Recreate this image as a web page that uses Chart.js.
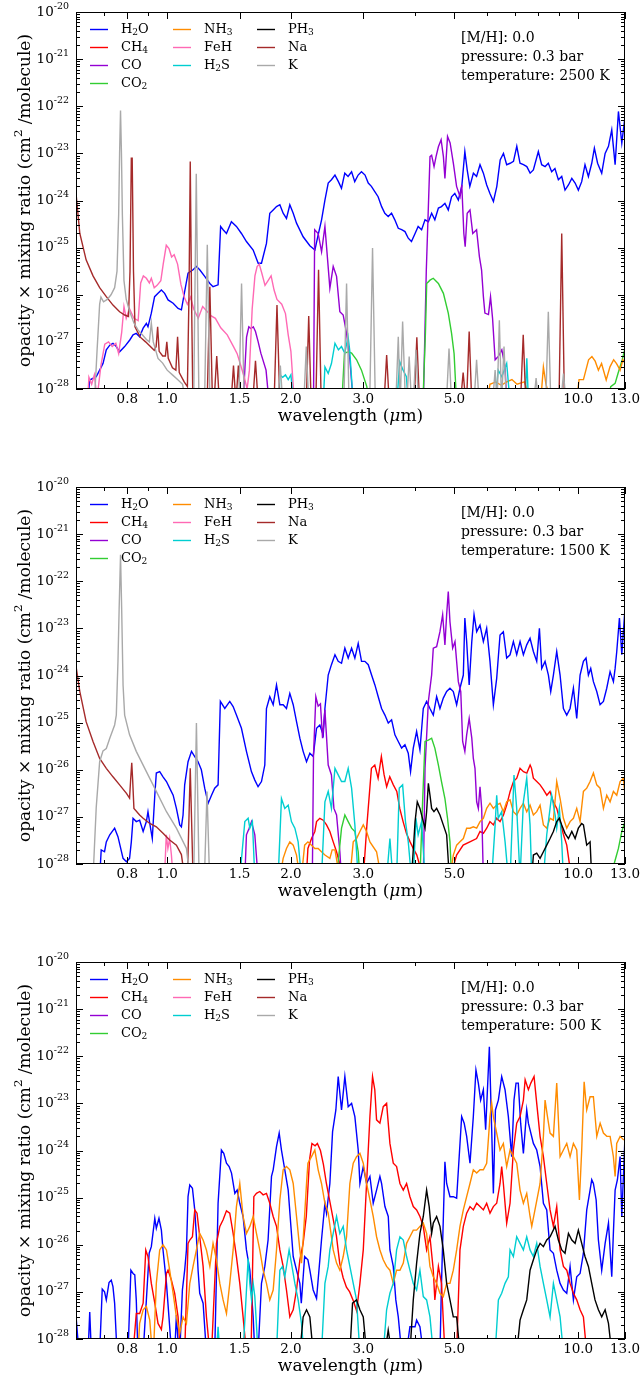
<!DOCTYPE html>
<html>
<head>
<meta charset="utf-8">
<script src="https://cdn.jsdelivr.net/npm/chart.js@4.4.1/dist/chart.umd.min.js"></script>
<style>
  html, body { margin: 0; padding: 0; background: #fff; }
  body { width: 642px; height: 1376px; position: relative; overflow: hidden; }
  canvas { position: absolute; left: 0; }
</style>
</head>
<body>
<canvas id="c2500" width="642" height="475" style="top:0px"></canvas>
<canvas id="c1500" width="642" height="475" style="top:475px"></canvas>
<canvas id="c500" width="642" height="426" style="top:950px"></canvas>
<script>
// each point: [wavelength in micron, log10(opacity x mixing ratio)]
const species = ['H_2O', 'CH_4', 'CO', 'CO_2', 'NH_3', 'FeH', 'H_2S', 'PH_3', 'Na', 'K'];
const colors = ['#0000ff', '#ff0000', '#9400d3', '#32cd32', '#ff8c00', '#ff69b4', '#00ced1', '#000000', '#a52a2a', '#a9a9a9'];
const xTicks = [0.7, 0.8, 0.9, 1, 1.5, 2, 3, 4, 5, 6, 7, 8, 9, 10, 13];
const xTickLabels = { 0.8: '0.8', 1: '1.0', 1.5: '1.5', 2: '2.0', 3: '3.0', 5: '5.0', 10: '10.0', 13: '13.0' };
const yDecades = [-28, -27, -26, -25, -24, -23, -22, -21, -20];

// ---- T = 2500 K ----
const h2o2500 = [[0.64,-28.3],[0.648,-27.81],[0.672,-27.74],[0.685,-27.6],[0.698,-27.46],[0.711,-27.17],[0.725,-27.07],[0.738,-27.03],[0.752,-27.1],[0.766,-27.21],[0.788,-27.1],[0.811,-26.96],[0.826,-26.85],[0.841,-26.82],[0.857,-26.89],[0.874,-26.71],[0.89,-26.61],[0.898,-26.68],[0.915,-26.39],[0.932,-26.04],[0.95,-25.97],[0.968,-25.9],[0.986,-25.97],[1.005,-26.11],[1.034,-26.18],[1.063,-26.29],[1.083,-26.32],[1.103,-25.93],[1.124,-25.54],[1.156,-25.47],[1.178,-25.4],[1.2,-25.47],[1.234,-25.61],[1.27,-25.76],[1.293,-25.83],[1.33,-25.79],[1.349,-24.55],[1.368,-24.62],[1.394,-24.7],[1.433,-24.45],[1.474,-24.55],[1.516,-24.7],[1.559,-24.87],[1.619,-25.05],[1.665,-25.33],[1.696,-25.33],[1.744,-24.91],[1.777,-24.27],[1.811,-24.2],[1.845,-24.13],[1.88,-24.09],[1.915,-24.27],[1.951,-24.38],[1.988,-24.09],[2.026,-24.27],[2.064,-24.48],[2.142,-24.77],[2.224,-24.96],[2.288,-25.05],[2.33,-24.73],[2.375,-24.41],[2.42,-23.99],[2.465,-23.63],[2.51,-23.56],[2.56,-23.46],[2.61,-23.6],[2.655,-23.74],[2.705,-23.42],[2.755,-23.49],[2.81,-23.39],[2.86,-23.6],[2.915,-23.46],[2.97,-23.39],[3.03,-23.46],[3.085,-23.63],[3.14,-23.7],[3.2,-23.81],[3.26,-23.92],[3.325,-24.13],[3.385,-24.27],[3.45,-24.34],[3.515,-24.27],[3.58,-24.41],[3.65,-24.59],[3.72,-24.62],[3.79,-24.66],[3.86,-24.8],[3.93,-24.87],[4.01,-24.7],[4.08,-24.55],[4.16,-24.62],[4.24,-24.41],[4.32,-24.45],[4.4,-24.27],[4.48,-24.41],[4.57,-24.16],[4.65,-24.13],[4.74,-24.06],[4.83,-24.2],[4.92,-23.92],[5.01,-23.85],[5.11,-23.99],[5.21,-23.7],[5.3,-22.96],[5.37,-23.35],[5.45,-23.7],[5.56,-23.42],[5.66,-23.49],[5.77,-23.24],[5.88,-23.42],[5.99,-23.67],[6.1,-23.85],[6.22,-24.02],[6.34,-23.7],[6.46,-23.14],[6.58,-23.0],[6.7,-23.24],[6.83,-23.21],[6.96,-23.17],[7.09,-22.85],[7.22,-23.21],[7.36,-23.24],[7.5,-23.28],[7.64,-23.42],[7.78,-23.35],[8.0,-22.96],[8.15,-23.24],[8.31,-23.28],[8.46,-23.21],[8.62,-23.39],[8.78,-23.32],[8.95,-23.56],[9.12,-23.49],[9.29,-23.78],[9.47,-23.67],[9.65,-23.53],[9.83,-23.63],[10.01,-23.78],[10.2,-23.6],[10.39,-23.24],[10.59,-23.49],[10.79,-23.21],[10.95,-22.89],[11.15,-23.21],[11.41,-23.42],[11.63,-23.0],[11.85,-22.85],[12.07,-22.5],[12.3,-23.24],[12.53,-22.11],[12.77,-22.78],[13.0,-22.22]];
const ch4_2500 = [];
const co2500 = [[1.53,-28.3],[1.56,-26.9],[1.58,-26.68],[1.6,-26.72],[1.62,-26.68],[1.64,-26.78],[1.665,-27.0],[1.69,-27.24],[1.74,-27.6],[1.77,-28.3],[2.27,-28.3],[2.285,-24.62],[2.33,-24.7],[2.375,-25.09],[2.42,-24.55],[2.488,-25.86],[2.535,-25.4],[2.583,-25.61],[2.631,-26.36],[2.681,-26.43],[2.732,-26.82],[2.783,-27.38],[2.836,-28.3],[4.2,-28.3],[4.27,-25.5],[4.36,-23.07],[4.4,-23.04],[4.46,-23.28],[4.51,-23.07],[4.57,-22.86],[4.64,-22.71],[4.7,-23.07],[4.74,-23.53],[4.81,-22.64],[4.88,-22.78],[4.97,-23.21],[5.06,-23.7],[5.16,-23.92],[5.21,-23.67],[5.27,-24.7],[5.31,-24.98],[5.37,-24.27],[5.455,-24.2],[5.54,-24.7],[5.66,-24.62],[5.75,-25.19],[5.82,-25.47],[5.88,-26.04],[5.93,-26.39],[6.05,-26.42],[6.12,-26.04],[6.19,-26.5],[6.28,-27.38],[6.39,-27.31],[6.52,-27.17],[6.64,-27.53],[6.7,-28.3]];
const co2_2500 = [[2.66,-28.3],[2.7,-27.24],[2.76,-27.21],[2.81,-27.24],[2.89,-27.38],[2.97,-27.6],[3.06,-27.95],[3.1,-28.3],[4.19,-28.3],[4.25,-26.8],[4.28,-25.76],[4.36,-25.69],[4.44,-25.65],[4.57,-25.76],[4.7,-25.97],[4.83,-26.39],[4.92,-26.82],[4.99,-27.25],[5.06,-28.3],[11.8,-28.3],[12.0,-27.95],[12.3,-27.88],[12.5,-27.67],[12.8,-27.38],[13.0,-27.14]];
const nh3_2500 = [[6.0,-28.3],[6.1,-27.9],[6.3,-27.85],[6.5,-27.92],[6.7,-27.85],[6.9,-27.8],[7.1,-27.9],[7.4,-27.85],[7.7,-28.3],[8.1,-28.3],[8.23,-27.53],[8.35,-27.9],[8.6,-28.3],[9.9,-28.3],[10.05,-27.8],[10.3,-27.8],[10.6,-27.38],[10.8,-27.31],[11.0,-27.41],[11.2,-27.6],[11.4,-27.46],[11.7,-27.81],[11.95,-27.53],[12.2,-27.38],[12.4,-27.46],[12.65,-27.6],[12.85,-27.38],[13.0,-27.46]];
const feh2500 = [[0.64,-28.3],[0.645,-27.75],[0.655,-27.9],[0.665,-27.7],[0.675,-28.2],[0.69,-27.5],[0.705,-27.05],[0.72,-27.0],[0.735,-27.1],[0.75,-27.03],[0.762,-27.25],[0.775,-26.8],[0.785,-26.25],[0.795,-26.5],[0.81,-26.3],[0.83,-26.5],[0.85,-26.55],[0.862,-25.75],[0.875,-25.6],[0.89,-25.65],[0.905,-25.75],[0.915,-25.65],[0.93,-25.85],[0.945,-25.8],[0.965,-25.7],[0.978,-25.35],[0.995,-24.95],[1.01,-25.02],[1.025,-25.2],[1.04,-25.15],[1.06,-25.35],[1.08,-25.78],[1.1,-26.05],[1.12,-26.2],[1.14,-26.05],[1.16,-26.3],[1.19,-26.5],[1.22,-26.25],[1.25,-26.35],[1.28,-26.45],[1.31,-26.5],[1.35,-26.7],[1.4,-26.85],[1.45,-27.1],[1.48,-27.25],[1.51,-27.5],[1.54,-27.75],[1.565,-28.0],[1.585,-27.6],[1.61,-26.3],[1.635,-25.6],[1.655,-25.4],[1.675,-25.35],[1.7,-25.55],[1.73,-25.8],[1.76,-25.7],[1.79,-25.6],[1.82,-25.9],[1.85,-26.1],[1.9,-26.2],[1.94,-26.4],[1.97,-26.85],[2.0,-27.2],[2.04,-28.3]];
const h2s2500 = [[1.87,-28.3],[1.88,-27.7],[1.91,-27.75],[1.94,-27.7],[1.97,-27.8],[2.0,-27.7],[2.03,-28.3],[2.397,-28.3],[2.42,-27.53],[2.465,-27.67],[2.51,-27.46],[2.56,-27.03],[2.61,-27.17],[2.655,-27.1],[2.705,-27.24],[2.755,-26.89],[2.78,-27.17],[2.836,-28.3],[3.62,-28.3],[3.68,-27.42],[3.75,-27.6],[3.82,-27.74],[3.86,-28.3],[6.28,-28.3],[6.39,-27.6],[6.52,-27.74],[6.7,-27.46],[6.83,-28.3],[7.43,-28.3],[7.5,-27.35],[7.57,-28.3]];
const ph3_2500 = [];
const na2500 = [[0.6,-23.85],[0.613,-24.7],[0.635,-25.26],[0.66,-25.6],[0.685,-25.85],[0.711,-26.04],[0.738,-26.22],[0.766,-26.36],[0.788,-26.43],[0.805,-26.46],[0.812,-25.5],[0.818,-23.1],[0.822,-23.1],[0.828,-25.5],[0.835,-26.68],[0.86,-26.9],[0.886,-27.0],[0.93,-27.18],[0.94,-27.1],[0.948,-26.68],[0.956,-27.2],[0.975,-27.3],[0.99,-27.3],[0.998,-27.0],[1.006,-27.35],[1.03,-27.55],[1.05,-27.6],[1.06,-26.89],[1.07,-27.65],[1.1,-27.85],[1.12,-27.95],[1.13,-26.0],[1.138,-23.17],[1.146,-26.0],[1.155,-28.3],[1.251,-28.3],[1.27,-25.83],[1.289,-28.3],[1.3,-28.3],[1.32,-27.3],[1.34,-28.3],[1.43,-28.3],[1.45,-27.5],[1.47,-28.3],[1.49,-27.5],[1.51,-28.3],[1.615,-28.3],[1.64,-27.4],[1.665,-28.3],[1.82,-28.3],[1.85,-26.22],[1.88,-28.3],[2.18,-28.3],[2.21,-26.45],[2.24,-28.3],[2.3,-28.3],[2.335,-25.47],[2.37,-28.3],[3.37,-28.3],[3.42,-27.28],[3.47,-28.3],[3.99,-28.3],[4.05,-26.9],[4.11,-28.3],[5.17,-28.3],[5.25,-27.65],[5.33,-28.3],[5.35,-28.3],[5.43,-26.78],[5.51,-28.3],[7.24,-28.3],[7.35,-26.85],[7.46,-28.3],[8.98,-28.3],[9.12,-24.7],[9.26,-28.3]];
const k2500 = [[0.665,-28.3],[0.675,-27.2],[0.685,-26.2],[0.69,-26.05],[0.7,-26.15],[0.715,-26.1],[0.73,-26.0],[0.745,-25.85],[0.755,-25.5],[0.762,-24.3],[0.766,-23.0],[0.77,-22.09],[0.774,-23.0],[0.778,-24.3],[0.785,-25.7],[0.795,-26.1],[0.81,-26.35],[0.83,-26.6],[0.85,-26.75],[0.87,-26.85],[0.89,-26.95],[0.905,-27.0],[0.915,-26.6],[0.925,-27.0],[0.95,-27.35],[0.975,-27.45],[1.0,-27.6],[1.03,-27.7],[1.06,-27.8],[1.09,-27.9],[1.11,-28.3],[1.16,-28.3],[1.177,-23.43],[1.195,-28.3],[1.233,-28.3],[1.252,-24.94],[1.271,-28.3],[1.494,-28.3],[1.517,-25.76],[1.54,-28.3],[1.86,-28.3],[1.885,-27.5],[1.91,-28.3],[2.15,-28.3],[2.18,-27.1],[2.21,-28.3],[2.69,-28.3],[2.732,-25.76],[2.77,-28.3],[3.11,-28.3],[3.16,-25.01],[3.21,-28.3],[3.6,-28.3],[3.65,-26.89],[3.69,-28.3],[3.7,-28.3],[3.74,-26.57],[3.8,-28.3],[3.83,-28.3],[3.88,-27.31],[3.93,-28.3],[3.97,-28.3],[4.03,-27.17],[4.09,-28.3],[4.78,-28.3],[4.85,-27.14],[4.92,-28.3],[5.58,-28.3],[5.66,-27.38],[5.74,-28.3],[6.19,-28.3],[6.28,-27.6],[6.35,-28.3],[6.36,-28.3],[6.43,-26.54],[6.51,-28.3],[6.52,-28.3],[6.6,-27.1],[6.69,-28.3],[7.79,-28.3],[7.9,-27.77],[8.01,-28.3],[8.34,-28.3],[8.46,-26.36],[8.58,-28.3],[9.07,-28.3],[9.21,-27.67],[9.35,-28.3]];

// ---- T = 1500 K ----
const h2o1500 = [[0.685,-28.3],[0.691,-27.7],[0.704,-27.74],[0.711,-27.53],[0.725,-27.38],[0.745,-27.24],[0.759,-27.42],[0.781,-27.88],[0.796,-27.95],[0.81,-27.88],[0.818,-27.53],[0.826,-27.03],[0.841,-27.1],[0.857,-27.07],[0.874,-27.31],[0.89,-27.1],[0.898,-26.89],[0.907,-27.14],[0.92,-27.46],[0.933,-26.54],[0.941,-26.07],[0.959,-26.04],[0.977,-26.15],[0.996,-26.25],[1.014,-26.39],[1.034,-26.54],[1.053,-26.82],[1.073,-27.17],[1.083,-27.21],[1.093,-26.96],[1.103,-26.32],[1.124,-25.83],[1.146,-25.61],[1.167,-25.72],[1.189,-25.83],[1.211,-26.0],[1.234,-26.39],[1.258,-26.71],[1.282,-26.54],[1.305,-26.39],[1.33,-26.32],[1.347,-24.55],[1.381,-24.7],[1.42,-24.55],[1.447,-24.66],[1.474,-24.84],[1.516,-25.12],[1.559,-25.61],[1.603,-26.04],[1.634,-26.22],[1.664,-26.36],[1.696,-26.25],[1.728,-25.9],[1.744,-24.7],[1.777,-24.45],[1.811,-24.62],[1.845,-24.2],[1.88,-24.62],[1.915,-24.62],[1.951,-24.7],[1.988,-24.38],[2.026,-24.62],[2.064,-24.98],[2.103,-25.33],[2.142,-25.61],[2.183,-25.83],[2.224,-25.65],[2.266,-25.72],[2.309,-25.12],[2.352,-25.05],[2.397,-25.26],[2.42,-24.7],[2.465,-23.99],[2.51,-23.77],[2.56,-23.56],[2.607,-23.7],[2.656,-23.74],[2.706,-23.42],[2.757,-23.63],[2.81,-23.42],[2.862,-23.63],[2.916,-23.32],[2.971,-23.7],[3.027,-23.7],[3.085,-23.77],[3.143,-23.99],[3.202,-24.2],[3.262,-24.45],[3.324,-24.7],[3.387,-24.84],[3.451,-25.01],[3.516,-24.94],[3.582,-25.26],[3.65,-25.4],[3.719,-25.54],[3.789,-25.47],[3.86,-25.65],[3.91,-26.04],[3.97,-25.54],[4.045,-25.19],[4.121,-25.58],[4.199,-24.7],[4.278,-24.55],[4.359,-24.7],[4.441,-24.84],[4.525,-24.45],[4.61,-24.7],[4.697,-24.48],[4.786,-24.34],[4.876,-24.27],[4.968,-24.34],[5.062,-24.62],[5.157,-24.27],[5.255,-23.99],[5.3,-22.78],[5.354,-23.28],[5.43,-24.2],[5.51,-23.28],[5.58,-22.71],[5.663,-23.07],[5.77,-22.93],[5.879,-23.28],[5.989,-23.0],[6.102,-23.7],[6.218,-24.62],[6.335,-24.06],[6.455,-23.14],[6.576,-23.07],[6.7,-23.63],[6.827,-23.56],[6.956,-23.28],[7.087,-23.56],[7.221,-23.28],[7.357,-23.56],[7.496,-23.35],[7.637,-23.21],[7.781,-23.49],[7.928,-23.7],[8.048,-23.0],[8.153,-23.85],[8.307,-23.7],[8.464,-23.99],[8.575,-24.34],[8.704,-23.99],[8.868,-23.49],[9.036,-23.99],[9.206,-24.7],[9.38,-24.84],[9.557,-24.7],[9.737,-24.27],[9.92,-24.91],[10.107,-23.99],[10.298,-23.7],[10.45,-23.63],[10.59,-23.99],[10.73,-23.85],[10.891,-24.13],[11.097,-24.34],[11.306,-24.62],[11.519,-24.55],[11.736,-24.27],[11.958,-23.92],[12.183,-24.13],[12.3,-23.85],[12.413,-23.49],[12.6,-22.78],[12.77,-23.56],[13.0,-22.57]];
const ch4_1500 = [[2.18,-28.3],[2.2,-27.67],[2.245,-27.46],[2.287,-27.31],[2.309,-27.1],[2.352,-27.03],[2.397,-27.07],[2.442,-27.17],[2.488,-27.31],[2.535,-27.53],[2.583,-27.74],[2.63,-28.0],[2.66,-28.3],[3.0,-28.3],[3.06,-27.2],[3.14,-25.97],[3.2,-25.9],[3.26,-26.18],[3.32,-25.72],[3.37,-26.1],[3.42,-26.36],[3.48,-26.15],[3.55,-26.32],[3.62,-26.46],[3.68,-26.82],[3.75,-27.1],[3.82,-27.35],[3.9,-27.53],[3.97,-27.67],[4.05,-27.81],[4.2,-28.3],[4.88,-28.3],[5.06,-27.81],[5.25,-27.6],[5.45,-27.53],[5.66,-27.46],[5.77,-27.31],[5.88,-27.35],[5.99,-27.24],[6.1,-27.1],[6.22,-27.17],[6.33,-27.03],[6.455,-27.1],[6.58,-26.96],[6.7,-26.75],[6.83,-26.46],[6.96,-26.25],[7.09,-26.18],[7.22,-25.97],[7.36,-26.04],[7.5,-26.07],[7.64,-25.9],[7.7,-25.97],[7.78,-26.18],[7.93,-26.25],[8.08,-26.32],[8.23,-26.42],[8.39,-26.54],[8.54,-26.46],[8.7,-26.68],[8.87,-26.82],[9.04,-27.1],[9.21,-27.38],[9.38,-27.6],[9.63,-28.3]];
const co1500 = [[1.545,-28.3],[1.559,-27.38],[1.583,-27.24],[1.604,-27.1],[1.634,-27.38],[1.664,-28.3],[2.255,-28.3],[2.27,-25.7],[2.3,-24.45],[2.33,-24.65],[2.36,-24.6],[2.388,-25.33],[2.42,-24.73],[2.465,-25.9],[2.51,-26.11],[2.545,-26.82],[2.583,-26.96],[2.631,-27.74],[2.656,-28.3],[4.2,-28.3],[4.24,-25.97],[4.32,-24.55],[4.4,-23.99],[4.441,-23.42],[4.525,-23.39],[4.61,-23.07],[4.68,-22.71],[4.74,-23.35],[4.786,-22.71],[4.83,-22.22],[4.876,-22.86],[4.95,-23.42],[5.015,-23.28],[5.11,-24.13],[5.18,-24.34],[5.235,-25.4],[5.3,-25.61],[5.354,-25.26],[5.43,-24.91],[5.51,-25.33],[5.558,-25.76],[5.61,-25.97],[5.663,-26.68],[5.716,-26.82],[5.77,-26.36],[5.824,-26.82],[5.879,-28.3]];
const co2_1500 = [[2.583,-28.3],[2.656,-27.24],[2.706,-26.96],[2.757,-27.1],[2.81,-27.24],[2.862,-27.31],[2.916,-27.74],[2.944,-28.3],[4.121,-28.3],[4.18,-26.75],[4.24,-25.4],[4.32,-25.37],[4.4,-25.33],[4.48,-25.54],[4.57,-25.9],[4.65,-26.25],[4.74,-26.61],[4.81,-27.03],[4.876,-27.53],[4.92,-28.3],[11.96,-28.3],[12.3,-27.92],[12.53,-27.67],[12.77,-27.31],[13.0,-27.1]];
const nh3_1500 = [[1.88,-28.3],[1.915,-27.88],[1.951,-27.67],[1.988,-27.53],[2.026,-27.6],[2.064,-27.81],[2.103,-28.3],[2.12,-28.3],[2.16,-27.6],[2.2,-27.53],[2.245,-27.6],[2.287,-27.67],[2.33,-27.67],[2.374,-27.74],[2.42,-27.81],[2.488,-27.88],[2.52,-27.7],[2.56,-27.7],[2.63,-28.3],[2.783,-28.3],[2.836,-27.53],[2.889,-27.46],[2.944,-27.31],[3.0,-27.17],[3.056,-27.31],[3.114,-27.53],[3.232,-27.74],[3.32,-28.3],[4.876,-28.3],[4.968,-27.81],[5.062,-27.6],[5.157,-27.53],[5.255,-27.46],[5.354,-27.24],[5.455,-27.24],[5.558,-27.21],[5.663,-27.24],[5.77,-27.1],[5.879,-27.03],[5.989,-26.82],[6.102,-26.71],[6.218,-26.82],[6.335,-26.75],[6.455,-26.71],[6.576,-26.89],[6.7,-26.68],[6.827,-26.64],[6.956,-26.89],[7.087,-26.96],[7.221,-26.82],[7.357,-26.71],[7.496,-26.89],[7.637,-26.75],[7.781,-26.96],[7.928,-26.89],[8.078,-26.75],[8.23,-27.17],[8.385,-27.24],[8.543,-27.03],[8.704,-27.07],[8.868,-26.25],[9.036,-26.61],[9.206,-27.03],[9.38,-27.24],[9.557,-27.1],[9.737,-27.03],[9.92,-26.82],[10.107,-27.1],[10.298,-26.46],[10.492,-26.39],[10.69,-26.25],[10.891,-26.07],[11.097,-26.32],[11.306,-26.39],[11.519,-26.82],[11.736,-26.54],[11.958,-26.68],[12.183,-26.46],[12.413,-26.54],[12.647,-26.25],[12.885,-26.18],[13.0,-26.54]];
const feh1500 = [[0.985,-28.3],[0.995,-27.38],[1.004,-27.67],[1.014,-27.46],[1.024,-27.81],[1.034,-28.3]];
const h2s1500 = [[1.502,-28.3],[1.545,-27.1],[1.574,-27.03],[1.589,-27.24],[1.612,-27.1],[1.634,-28.3],[1.862,-28.3],[1.897,-26.61],[1.933,-26.82],[1.97,-26.75],[2.006,-27.1],[2.045,-27.24],[2.083,-27.53],[2.122,-28.3],[2.374,-28.3],[2.42,-26.68],[2.465,-26.46],[2.51,-26.82],[2.56,-25.97],[2.607,-26.11],[2.656,-26.25],[2.706,-26.25],[2.757,-25.97],[2.81,-26.39],[2.862,-27.17],[2.916,-28.3],[3.419,-28.3],[3.483,-27.46],[3.54,-28.3],[3.616,-28.3],[3.67,-26.39],[3.74,-26.32],[3.8,-27.1],[3.86,-27.53],[3.93,-28.3],[3.97,-28.3],[4.03,-27.03],[4.08,-27.38],[4.16,-27.1],[4.24,-28.3],[6.16,-28.3],[6.28,-27.17],[6.335,-26.54],[6.39,-27.03],[6.515,-26.89],[6.64,-27.53],[6.76,-28.3],[6.83,-28.3],[6.98,-26.11],[7.087,-26.82],[7.22,-28.3],[7.25,-28.3],[7.357,-26.68],[7.496,-26.18],[7.637,-27.17],[7.71,-28.3],[8.23,-28.3],[8.385,-27.38],[8.543,-26.82],[8.62,-26.54],[8.79,-26.96],[8.868,-27.24],[9.0,-26.82],[9.12,-27.53],[9.206,-28.3]];
const ph3_1500 = [[3.93,-28.3],[4.01,-27.1],[4.06,-26.68],[4.121,-26.82],[4.199,-27.1],[4.24,-27.24],[4.278,-26.89],[4.32,-26.29],[4.359,-26.54],[4.4,-26.82],[4.458,-26.89],[4.525,-26.82],[4.61,-26.96],[4.697,-27.17],[4.786,-27.38],[4.86,-28.3],[7.71,-28.3],[7.781,-27.81],[7.928,-27.77],[8.078,-27.88],[8.23,-27.74],[8.385,-27.6],[8.543,-27.46],[8.704,-27.31],[8.868,-27.1],[9.0,-27.03],[9.12,-27.17],[9.29,-27.35],[9.47,-27.46],[9.65,-27.31],[9.83,-27.46],[10.01,-27.24],[10.2,-27.14],[10.3,-27.17],[10.49,-27.6],[10.69,-27.53],[10.79,-28.3]];
const na1500 = [[0.6,-23.8],[0.613,-24.34],[0.635,-24.98],[0.66,-25.4],[0.685,-25.76],[0.711,-25.97],[0.738,-26.15],[0.766,-26.32],[0.796,-26.5],[0.81,-26.6],[0.815,-26.2],[0.82,-25.85],[0.824,-26.2],[0.83,-26.82],[0.857,-26.96],[0.874,-27.03],[0.907,-27.14],[0.941,-27.21],[0.977,-27.35],[1.014,-27.49],[1.053,-27.6],[1.083,-27.8],[1.103,-28.3],[1.12,-28.3],[1.138,-25.97],[1.156,-28.3]];
const k1500 = [[0.66,-28.3],[0.672,-26.8],[0.685,-25.83],[0.698,-25.6],[0.711,-25.55],[0.725,-25.33],[0.745,-25.05],[0.752,-24.84],[0.759,-23.7],[0.764,-22.6],[0.77,-21.44],[0.775,-22.6],[0.781,-24.2],[0.788,-24.84],[0.81,-25.26],[0.841,-25.61],[0.89,-26.04],[0.941,-26.46],[0.996,-26.89],[1.053,-27.24],[1.114,-27.67],[1.135,-28.3],[1.16,-28.3],[1.178,-25.01],[1.196,-28.3],[1.232,-28.3],[1.25,-26.46],[1.268,-28.3]];

// ---- T = 500 K ----
const h2o500 = [[0.6,-27.5],[0.61,-28.3],[0.642,-28.3],[0.648,-27.43],[0.654,-28.3],[0.685,-28.3],[0.695,-26.94],[0.704,-27.0],[0.711,-27.17],[0.722,-26.8],[0.731,-26.75],[0.738,-26.89],[0.745,-27.24],[0.755,-28.3],[0.803,-28.3],[0.816,-26.54],[0.826,-26.61],[0.834,-26.64],[0.841,-27.17],[0.849,-28.3],[0.874,-28.3],[0.89,-27.17],[0.904,-26.18],[0.915,-26.04],[0.933,-25.44],[0.941,-25.65],[0.955,-25.44],[0.968,-25.69],[0.977,-26.11],[0.996,-26.82],[1.01,-27.53],[1.025,-28.3],[1.043,-28.3],[1.053,-27.49],[1.067,-28.3],[1.073,-28.3],[1.089,-26.96],[1.103,-26.54],[1.114,-26.11],[1.124,-24.98],[1.135,-24.73],[1.152,-24.8],[1.167,-25.26],[1.178,-25.83],[1.189,-26.54],[1.2,-27.03],[1.223,-27.24],[1.246,-28.3],[1.305,-28.3],[1.33,-25.12],[1.355,-23.99],[1.373,-24.06],[1.394,-24.27],[1.415,-24.34],[1.434,-24.48],[1.461,-24.91],[1.48,-24.84],[1.502,-25.12],[1.53,-25.4],[1.559,-26.11],[1.589,-26.54],[1.619,-27.53],[1.634,-28.3],[1.664,-28.3],[1.696,-26.82],[1.728,-26.46],[1.76,-25.9],[1.794,-24.55],[1.811,-24.41],[1.845,-23.92],[1.873,-23.63],[1.897,-23.99],[1.933,-24.41],[1.97,-24.84],[2.006,-25.76],[2.026,-26.25],[2.064,-26.54],[2.103,-26.82],[2.12,-27.24],[2.16,-26.25],[2.2,-26.32],[2.224,-26.54],[2.266,-26.96],[2.309,-27.14],[2.352,-26.32],[2.374,-25.9],[2.42,-25.12],[2.442,-25.33],[2.488,-24.7],[2.526,-23.6],[2.573,-23.14],[2.607,-22.43],[2.656,-23.14],[2.706,-22.43],[2.757,-23.07],[2.81,-23.0],[2.862,-23.28],[2.916,-23.99],[2.944,-24.7],[3.0,-24.34],[3.056,-24.7],[3.114,-24.55],[3.172,-25.12],[3.232,-24.84],[3.293,-24.55],[3.324,-24.7],[3.387,-25.19],[3.451,-25.4],[3.483,-26.11],[3.549,-26.46],[3.6,-27.17],[3.65,-27.53],[3.72,-28.3],[3.82,-28.3],[3.896,-27.74],[4.01,-27.74],[4.045,-27.6],[4.121,-27.74],[4.199,-28.3],[4.61,-28.3],[4.65,-26.82],[4.74,-24.24],[4.786,-24.7],[4.876,-24.98],[4.968,-24.98],[5.062,-25.01],[5.206,-23.28],[5.28,-23.42],[5.354,-23.7],[5.455,-24.27],[5.558,-23.28],[5.64,-22.29],[5.716,-22.57],[5.79,-22.93],[5.879,-22.71],[5.955,-23.56],[6.08,-21.8],[6.16,-23.56],[6.218,-24.91],[6.29,-23.14],[6.395,-22.93],[6.515,-22.43],[6.638,-22.71],[6.763,-23.28],[6.89,-24.13],[6.98,-22.93],[7.06,-22.57],[7.15,-22.57],[7.245,-23.42],[7.357,-24.06],[7.496,-23.14],[7.566,-23.42],[7.781,-23.85],[7.928,-23.99],[8.078,-24.34],[8.23,-25.12],[8.385,-25.26],[8.543,-26.11],[8.704,-26.18],[8.868,-26.54],[9.036,-26.82],[9.206,-26.96],[9.38,-27.03],[9.557,-26.46],[9.737,-27.17],[9.92,-26.68],[10.107,-26.61],[10.298,-26.18],[10.492,-25.26],[10.69,-24.84],[10.79,-24.62],[10.891,-24.7],[11.06,-25.05],[11.2,-25.9],[11.41,-26.54],[11.63,-25.97],[11.85,-25.54],[12.07,-26.68],[12.18,-25.76],[12.3,-24.84],[12.46,-24.62],[12.647,-24.13],[12.77,-25.4],[13.0,-23.7]];
const ch4_500 = [[0.826,-28.3],[0.841,-27.46],[0.857,-27.46],[0.874,-27.24],[0.887,-26.11],[0.898,-26.25],[0.915,-26.82],[0.933,-27.24],[0.95,-27.67],[0.968,-27.8],[0.977,-27.53],[0.996,-26.61],[1.005,-26.54],[1.024,-26.75],[1.043,-27.03],[1.063,-27.53],[1.077,-28.3],[1.103,-28.3],[1.124,-25.97],[1.135,-25.9],[1.152,-25.83],[1.167,-25.26],[1.182,-25.33],[1.2,-25.83],[1.223,-26.46],[1.246,-27.53],[1.27,-28.3],[1.282,-28.3],[1.318,-25.97],[1.343,-25.61],[1.368,-25.47],[1.394,-25.28],[1.42,-25.33],[1.447,-25.76],[1.474,-26.25],[1.502,-26.82],[1.53,-27.53],[1.559,-28.3],[1.6,-28.3],[1.625,-24.98],[1.649,-24.91],[1.68,-24.87],[1.712,-24.94],[1.744,-24.91],[1.777,-25.12],[1.811,-25.4],[1.845,-25.61],[1.88,-26.11],[1.915,-26.46],[1.951,-26.96],[1.988,-27.53],[2.026,-27.38],[2.064,-26.96],[2.103,-26.32],[2.142,-25.97],[2.18,-25.4],[2.22,-24.2],[2.25,-23.85],[2.29,-23.9],[2.32,-23.85],[2.36,-24.0],[2.4,-24.3],[2.44,-24.7],[2.49,-25.1],[2.54,-25.5],[2.58,-25.8],[2.63,-26.4],[2.68,-26.7],[2.73,-26.9],[2.78,-27.0],[2.84,-27.2],[2.89,-27.4],[2.944,-26.82],[3.0,-26.11],[3.056,-24.7],[3.114,-23.28],[3.16,-22.43],[3.2,-22.71],[3.232,-23.35],[3.293,-23.42],[3.355,-23.07],[3.419,-23.0],[3.483,-23.85],[3.549,-24.27],[3.616,-24.34],[3.684,-24.7],[3.754,-24.84],[3.824,-24.7],[3.896,-24.98],[3.97,-25.19],[4.045,-25.26],[4.121,-25.4],[4.199,-25.61],[4.278,-26.11],[4.359,-25.83],[4.441,-26.54],[4.48,-27.17],[4.57,-26.46],[4.65,-26.82],[4.74,-28.3],[5.062,-28.3],[5.157,-26.11],[5.255,-25.61],[5.354,-25.33],[5.455,-25.19],[5.558,-25.26],[5.663,-25.12],[5.77,-25.19],[5.879,-25.26],[5.989,-25.12],[6.102,-25.33],[6.218,-25.19],[6.335,-25.12],[6.455,-24.7],[6.515,-24.34],[6.576,-24.7],[6.7,-25.54],[6.827,-25.12],[6.956,-23.99],[7.087,-23.42],[7.221,-23.28],[7.357,-22.93],[7.43,-22.5],[7.566,-22.71],[7.67,-22.57],[7.81,-22.43],[7.928,-23.0],[8.078,-23.7],[8.23,-24.13],[8.385,-24.7],[8.543,-25.26],[8.704,-25.61],[8.868,-25.19],[9.036,-26.11],[9.206,-26.46],[9.38,-26.54],[9.557,-26.82],[9.737,-27.03],[9.92,-27.17],[10.107,-27.38],[10.298,-27.53],[10.49,-28.3]];
const co500 = [];
const co2_500 = [];
const nh3_500 = [[0.849,-28.3],[0.857,-27.67],[0.874,-27.38],[0.89,-27.31],[0.907,-27.6],[0.92,-28.3],[0.926,-28.3],[0.941,-26.82],[0.959,-26.11],[0.977,-26.0],[0.996,-26.11],[1.014,-26.54],[1.034,-27.03],[1.053,-27.53],[1.073,-27.88],[1.093,-27.53],[1.114,-27.67],[1.135,-26.82],[1.156,-26.46],[1.178,-26.11],[1.2,-25.76],[1.223,-25.9],[1.246,-26.11],[1.27,-26.46],[1.293,-25.97],[1.318,-26.32],[1.343,-26.82],[1.368,-27.17],[1.394,-27.46],[1.42,-26.82],[1.447,-26.11],[1.474,-25.19],[1.502,-24.7],[1.53,-25.4],[1.559,-25.76],[1.589,-25.61],[1.619,-25.4],[1.649,-25.76],[1.68,-26.11],[1.712,-26.54],[1.744,-26.82],[1.777,-27.17],[1.811,-26.96],[1.845,-26.11],[1.88,-25.05],[1.915,-24.41],[1.951,-24.34],[1.988,-24.41],[2.026,-24.7],[2.064,-25.4],[2.103,-26.11],[2.122,-26.39],[2.142,-25.9],[2.183,-24.7],[2.2,-24.27],[2.245,-24.13],[2.287,-23.99],[2.33,-24.41],[2.374,-24.7],[2.42,-25.12],[2.465,-25.33],[2.535,-26.11],[2.583,-26.39],[2.631,-26.54],[2.681,-26.25],[2.732,-25.83],[2.783,-24.7],[2.836,-24.27],[2.889,-24.13],[2.944,-24.06],[3.0,-24.27],[3.056,-24.7],[3.114,-25.05],[3.172,-25.4],[3.232,-25.83],[3.293,-26.11],[3.355,-26.32],[3.419,-26.46],[3.483,-26.54],[3.549,-26.82],[3.616,-26.54],[3.684,-26.54],[3.754,-26.39],[3.824,-25.97],[3.896,-25.83],[3.97,-25.69],[4.045,-25.69],[4.121,-25.61],[4.199,-25.54],[4.278,-25.76],[4.359,-26.46],[4.441,-26.68],[4.525,-26.82],[4.61,-27.03],[4.697,-27.1],[4.786,-26.82],[4.876,-26.82],[4.968,-26.54],[5.062,-26.11],[5.157,-25.61],[5.255,-25.26],[5.354,-24.98],[5.455,-24.7],[5.558,-24.41],[5.663,-24.48],[5.77,-24.41],[5.879,-24.41],[5.989,-24.27],[6.102,-23.28],[6.16,-23.0],[6.218,-23.28],[6.335,-23.63],[6.455,-23.99],[6.576,-23.85],[6.7,-24.34],[6.827,-23.99],[6.956,-24.13],[7.087,-24.27],[7.221,-24.84],[7.357,-25.12],[7.496,-24.91],[7.637,-25.4],[7.71,-25.61],[7.85,-25.26],[8.078,-24.7],[8.23,-23.7],[8.307,-22.93],[8.42,-23.28],[8.543,-23.63],[8.704,-23.7],[8.868,-22.57],[9.036,-24.13],[9.206,-23.99],[9.38,-23.85],[9.557,-24.13],[9.737,-23.85],[9.92,-23.99],[10.07,-25.05],[10.2,-23.99],[10.34,-22.54],[10.49,-23.14],[10.69,-22.86],[10.89,-22.86],[11.1,-23.7],[11.31,-23.42],[11.52,-23.63],[11.74,-23.7],[11.96,-23.7],[12.18,-24.13],[12.3,-24.55],[12.41,-23.85],[12.65,-23.7],[12.89,-23.77],[13.0,-23.77]];
const feh500 = [];
const h2s500 = [[1.318,-28.3],[1.33,-27.74],[1.343,-28.3],[1.53,-28.3],[1.574,-26.29],[1.589,-26.82],[1.604,-27.17],[1.619,-26.82],[1.634,-27.1],[1.664,-28.3],[1.845,-28.3],[1.88,-26.54],[1.908,-26.46],[1.933,-26.68],[1.98,-26.11],[2.006,-26.39],[2.045,-26.82],[2.083,-27.17],[2.122,-27.67],[2.15,-28.3],[2.374,-28.3],[2.42,-26.82],[2.465,-26.46],[2.488,-26.11],[2.535,-25.76],[2.583,-25.4],[2.631,-25.76],[2.681,-25.61],[2.732,-26.11],[2.783,-26.46],[2.836,-26.82],[2.889,-27.17],[2.944,-28.3],[3.355,-28.3],[3.419,-27.38],[3.483,-27.03],[3.549,-26.82],[3.616,-26.11],[3.684,-25.83],[3.754,-25.9],[3.824,-26.25],[3.896,-26.54],[3.97,-26.82],[4.045,-26.96],[4.121,-26.54],[4.199,-27.1],[4.278,-27.17],[4.359,-27.53],[4.441,-28.3],[6.28,-28.3],[6.395,-27.17],[6.515,-27.03],[6.638,-26.82],[6.763,-26.68],[6.827,-26.11],[6.956,-26.25],[7.087,-25.83],[7.221,-25.97],[7.357,-26.11],[7.496,-25.83],[7.637,-26.11],[7.781,-26.25],[7.928,-25.97],[8.078,-26.46],[8.23,-26.82],[8.385,-27.17],[8.543,-27.53],[8.704,-26.82],[8.868,-27.17],[9.036,-27.53],[9.206,-28.3]];
const ph3_500 = [[2.103,-28.3],[2.142,-27.53],[2.183,-27.38],[2.224,-27.53],[2.266,-28.3],[2.783,-28.3],[2.825,-27.24],[2.889,-27.17],[2.944,-27.38],[3.0,-27.53],[3.056,-28.3],[3.387,-28.3],[3.45,-27.81],[3.516,-28.3],[3.896,-28.3],[3.97,-27.17],[4.045,-26.39],[4.121,-25.76],[4.199,-25.4],[4.278,-24.84],[4.34,-25.19],[4.4,-25.76],[4.441,-25.54],[4.525,-25.4],[4.61,-25.61],[4.697,-26.11],[4.786,-26.82],[4.876,-27.17],[4.968,-27.53],[5.062,-27.53],[5.157,-28.3],[7.087,-28.3],[7.221,-27.6],[7.357,-27.38],[7.496,-27.17],[7.637,-26.54],[7.781,-26.32],[7.928,-26.11],[8.078,-25.97],[8.23,-26.04],[8.385,-25.9],[8.543,-25.83],[8.786,-25.61],[8.95,-25.9],[9.12,-26.11],[9.29,-26.18],[9.47,-25.76],[9.65,-25.9],[9.83,-25.97],[10.01,-25.69],[10.2,-25.97],[10.39,-26.25],[10.59,-26.46],[10.79,-26.82],[10.99,-27.17],[11.2,-27.38],[11.41,-27.53],[11.63,-27.38],[11.85,-27.67],[12.07,-28.3]];
const na500 = [];
const k500 = [];

const SERIF = '"DejaVu Serif", "Liberation Serif", serif';

// text helper: '_' makes the next char a subscript
function parseLabel(s) {
  const parts = [];
  for (let i = 0; i < s.length; i++) {
    if (s[i] === '_') { parts.push([s[i + 1], 'sub']); i++; }
    else parts.push([s[i], 'n']);
  }
  return parts;
}

function drawParts(ctx, parts, x, y, size) {
  let cx = x;
  for (const [t, kind] of parts) {
    const small = kind === 'sub' || kind === 'sup';
    const fs = small ? size * 0.7 : size;
    ctx.font = (kind === 'it' ? 'italic ' : '') + fs + 'px ' + SERIF;
    const dy = kind === 'sub' ? size * 0.28 : kind === 'sup' ? -size * 0.42 : 0;
    ctx.fillText(t, cx, y + dy);
    cx += ctx.measureText(t).width;
  }
  return cx - x;
}

function partsWidth(ctx, parts, size) {
  let w = 0;
  for (const [t, kind] of parts) {
    const small = kind === 'sub' || kind === 'sup';
    ctx.font = (kind === 'it' ? 'italic ' : '') + (small ? size * 0.7 : size) + 'px ' + SERIF;
    w += ctx.measureText(t).width;
  }
  return w;
}

function decoPlugin(temp) {
  return {
    id: 'deco',
    afterDraw(chart) {
      const { ctx, chartArea: a, scales: { x, y } } = chart;
      ctx.save();
      ctx.strokeStyle = '#000';
      ctx.fillStyle = '#000';
      ctx.lineWidth = 1;

      // frame
      ctx.strokeRect(a.left + 0.5, a.top + 0.5, a.right - a.left - 1, a.bottom - a.top - 1);

      // x ticks (inward, top and bottom)
      ctx.beginPath();
      for (const v of xTicks) {
        const px = Math.round(x.getPixelForValue(v)) + 0.5;
        const len = xTickLabels[v] ? 7 : 4;
        ctx.moveTo(px, a.bottom); ctx.lineTo(px, a.bottom - len);
        ctx.moveTo(px, a.top); ctx.lineTo(px, a.top + len);
      }
      // y ticks (inward, left and right)
      for (const e of yDecades) {
        for (let m = 1; m <= 9; m++) {
          if (e === -20 && m > 1) break;
          const py = Math.round(y.getPixelForValue(m * Math.pow(10, e))) + 0.5;
          const len = m === 1 ? 7 : 4;
          ctx.moveTo(a.left, py); ctx.lineTo(a.left + len, py);
          ctx.moveTo(a.right, py); ctx.lineTo(a.right - len, py);
        }
      }
      ctx.stroke();

      // x tick labels
      ctx.textBaseline = 'middle';
      ctx.textAlign = 'center';
      ctx.font = '13.5px ' + SERIF;
      for (const v of xTicks) {
        if (!xTickLabels[v]) continue;
        ctx.fillText(xTickLabels[v], x.getPixelForValue(v), a.bottom + 10);
      }

      // y tick labels: 10^-n
      ctx.textAlign = 'left';
      for (const e of yDecades) {
        const parts = [['10', 'n'], [String(e), 'sup']];
        const w = partsWidth(ctx, parts, 13.5);
        drawParts(ctx, parts, a.left - 7 - w, y.getPixelForValue(Math.pow(10, e)), 13.5);
      }

      // x axis title
      const xt = [['wavelength (', 'n'], ['\u03bc', 'it'], ['m)', 'n']];
      const xw = partsWidth(ctx, xt, 17);
      drawParts(ctx, xt, (a.left + a.right) / 2 - xw / 2, a.bottom + 28, 17);

      // y axis title
      const yt = [['opacity \u00d7 mixing ratio (cm', 'n'], ['2', 'sup'], [' /molecule)', 'n']];
      const yw = partsWidth(ctx, yt, 17);
      ctx.save();
      ctx.translate(26, (a.top + a.bottom) / 2);
      ctx.rotate(-Math.PI / 2);
      drawParts(ctx, yt, -yw / 2, 0, 17);
      ctx.restore();

      // annotation
      ctx.font = '14px ' + SERIF;
      ctx.fillText('[M/H]: 0.0', 461, a.top + 26);
      ctx.fillText('pressure: 0.3 bar', 461, a.top + 45);
      ctx.fillText('temperature: ' + temp, 461, a.top + 64);

      // legend: 3 columns, column-major
      const colX = [90, 173, 257];
      const rowY = [16.5, 34.5, 52.5, 70.5];
      species.forEach((name, i) => {
        const col = i < 4 ? 0 : i < 7 ? 1 : 2;
        const row = i < 4 ? i : i < 7 ? i - 4 : i - 7;
        const lx = colX[col], ly = Math.round(a.top + rowY[row]) + 0.5;
        ctx.strokeStyle = colors[i];
        ctx.lineWidth = 1.4;
        ctx.beginPath(); ctx.moveTo(lx, ly); ctx.lineTo(lx + 18, ly); ctx.stroke();
        ctx.fillStyle = '#000';
        drawParts(ctx, parseLabel(name), lx + 31, ly, 13);
      });
      ctx.restore();
    }
  };
}

function makeChart(id, series, temp) {
  const canvas = document.getElementById(id);
  const H = canvas.height;
  new Chart(canvas, {
    type: 'line',
    data: {
      datasets: series.map((s, i) => ({
        label: species[i],
        data: s.map(([w, e]) => ({ x: w, y: Math.pow(10, e) })),
        borderColor: colors[i],
        borderWidth: 1.4,
        pointRadius: 0,
        tension: 0,
        fill: false,
        order: series.length - i
      }))
    },
    options: {
      responsive: false,
      animation: false,
      devicePixelRatio: 1,
      layout: { padding: { top: 12, right: 17, left: 0, bottom: 0 } },
      plugins: { legend: { display: false }, tooltip: { enabled: false } },
      scales: {
        x: {
          type: 'logarithmic', min: 0.6, max: 13,
          grid: { display: false }, border: { display: false }, ticks: { display: false },
          afterFit: s => { s.height = H - 12 - 377; }
        },
        y: {
          type: 'logarithmic', min: 1e-28, max: 1e-20,
          grid: { display: false }, border: { display: false }, ticks: { display: false },
          afterFit: s => { s.width = 76; }
        }
      }
    },
    plugins: [decoPlugin(temp)]
  });
}

makeChart('c2500', [h2o2500, ch4_2500, co2500, co2_2500, nh3_2500, feh2500, h2s2500, ph3_2500, na2500, k2500], '2500 K');
makeChart('c1500', [h2o1500, ch4_1500, co1500, co2_1500, nh3_1500, feh1500, h2s1500, ph3_1500, na1500, k1500], '1500 K');
makeChart('c500', [h2o500, ch4_500, co500, co2_500, nh3_500, feh500, h2s500, ph3_500, na500, k500], '500 K');
</script>
</body>
</html>
